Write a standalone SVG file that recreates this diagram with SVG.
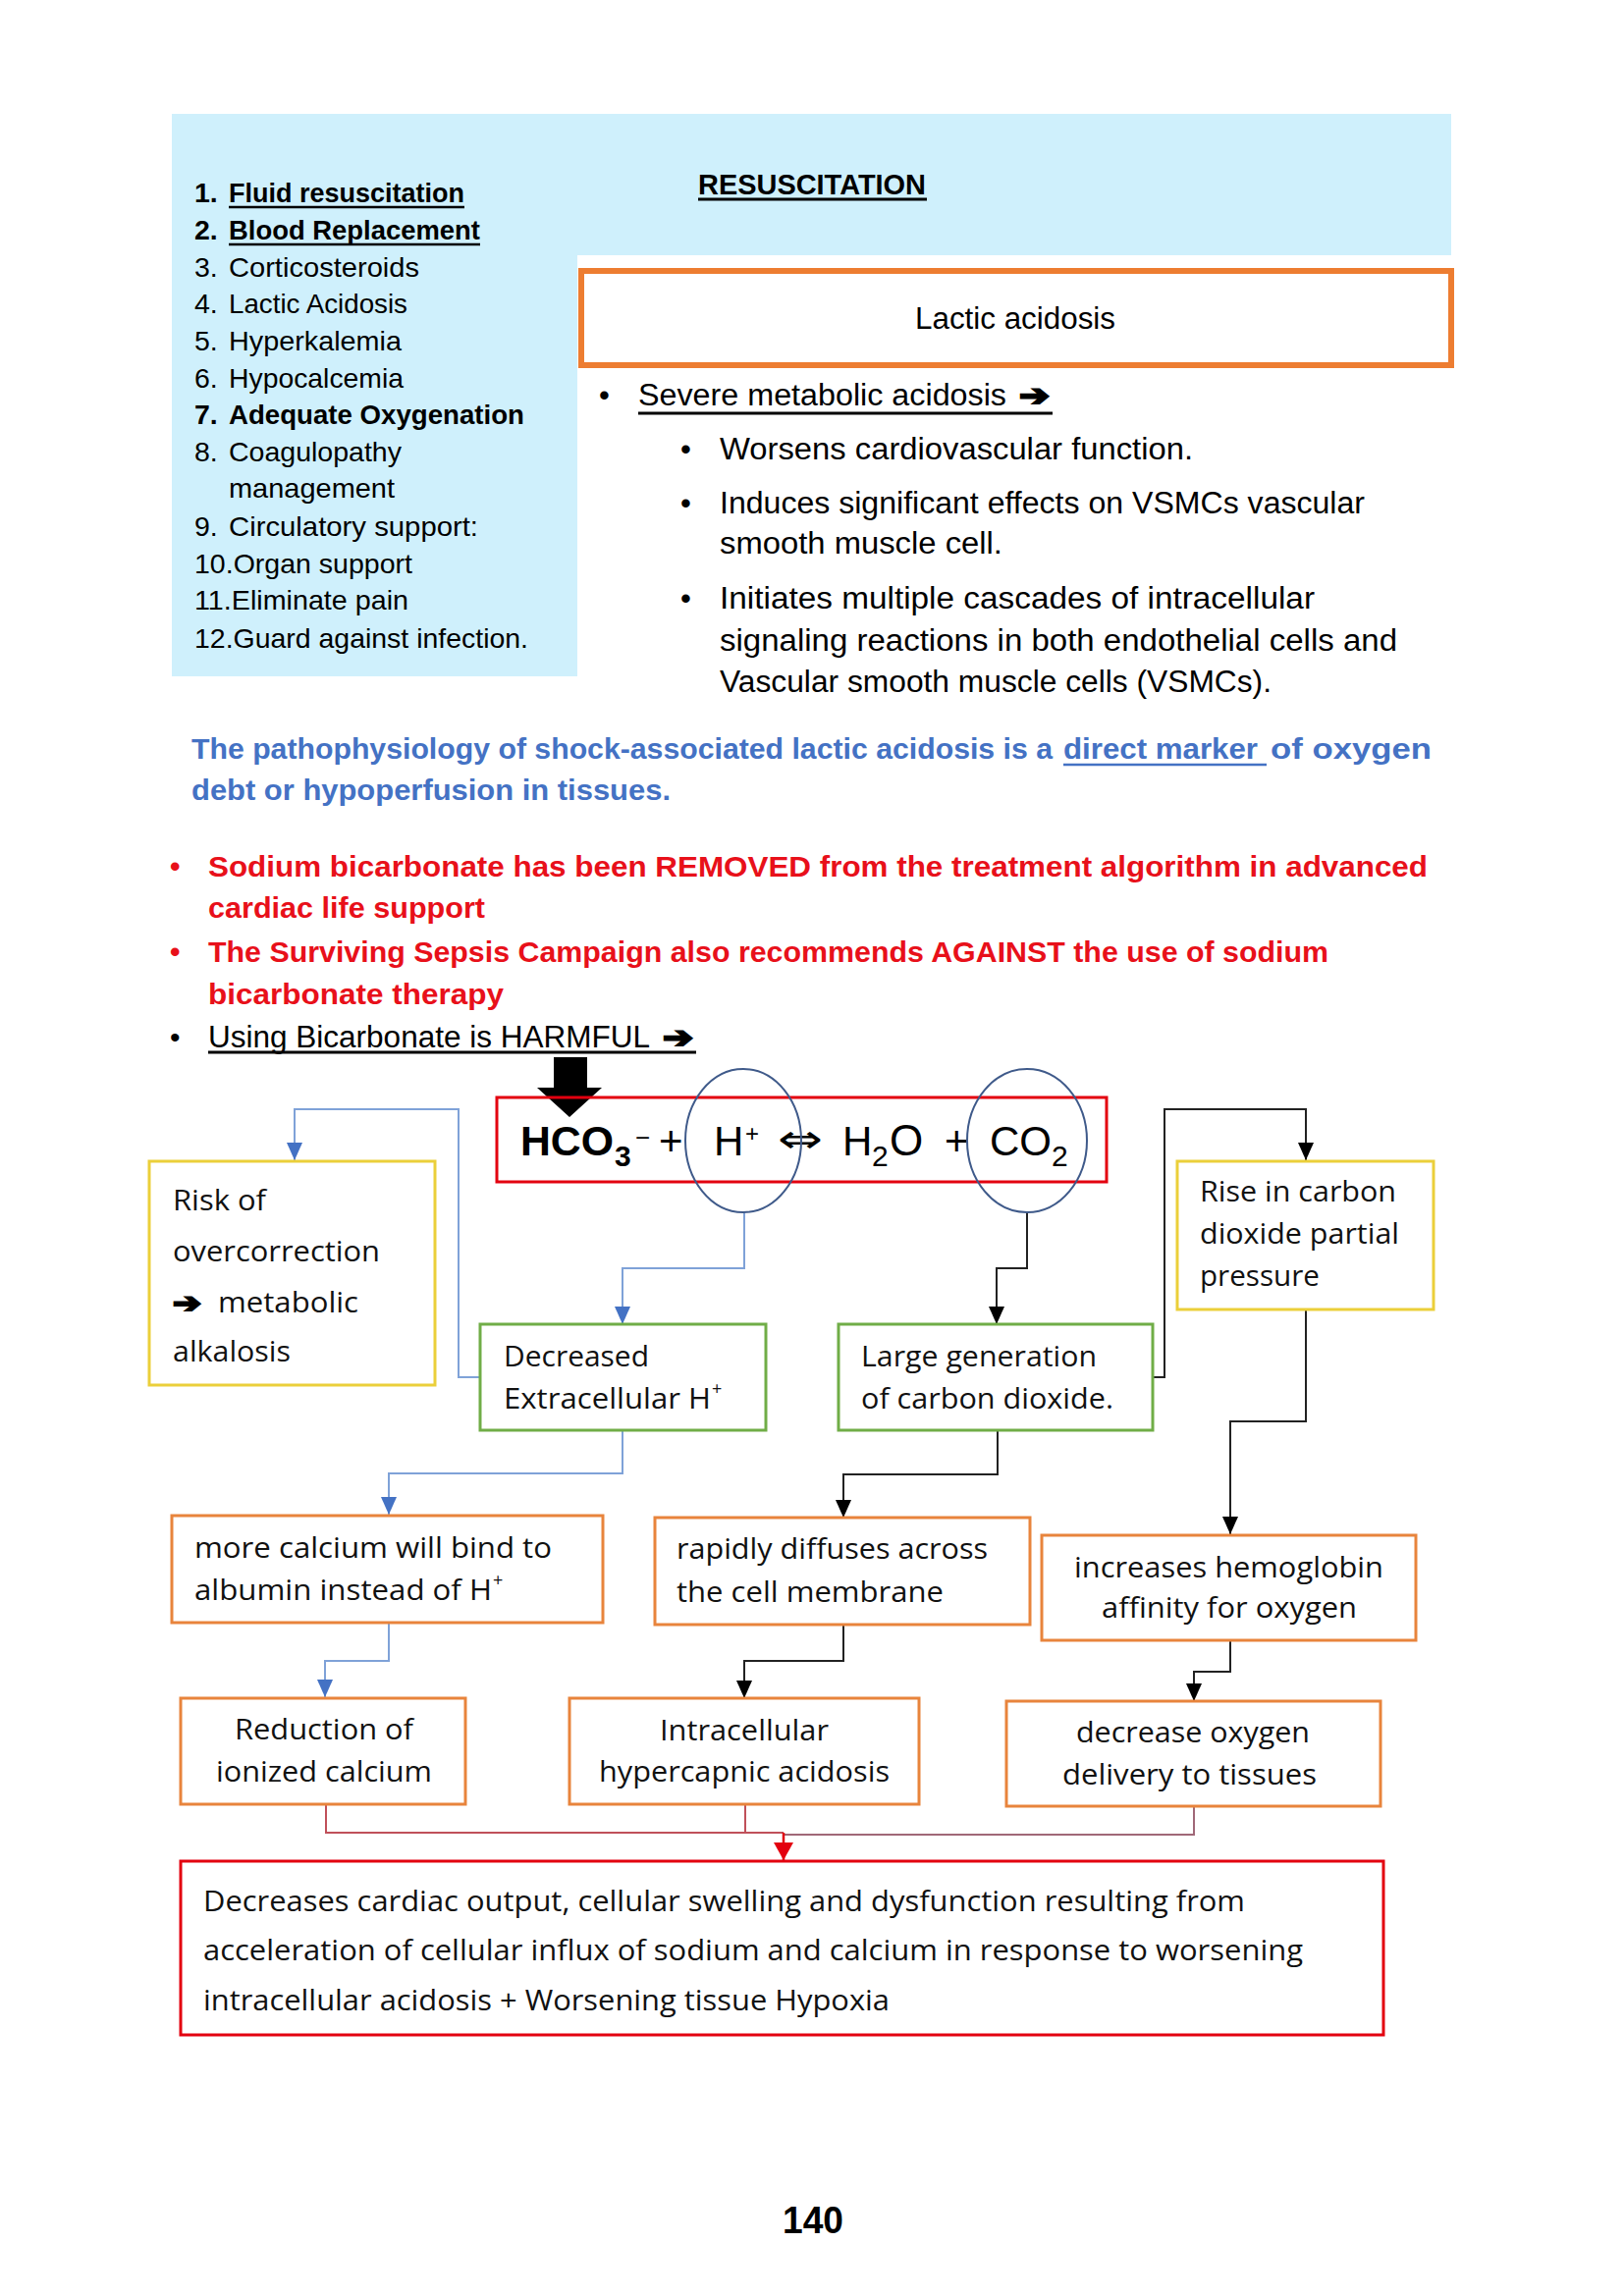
<svg xmlns="http://www.w3.org/2000/svg" width="1654" height="2339" viewBox="0 0 1654 2339">
<defs>
<style>
.t{font-family:"Liberation Sans",Arial,sans-serif;fill:#000}
.b{font-weight:bold}
.d{font-family:"Open Sans","Noto Sans",sans-serif;font-size:29px;fill:#111}
.ar{font-family:"DejaVu Sans",sans-serif;font-weight:bold;stroke:#000;stroke-width:2.2}
.bx{fill:#fff;stroke-width:3}
.yel{stroke:#EBCF3A}
.grn{stroke:#70AD47}
.org{stroke:#E8843C}
.red{stroke:#E3000F}
.cb{fill:none;stroke:#7FA2D8;stroke-width:2}
.ck{fill:none;stroke:#222;stroke-width:2}
.cr{fill:none;stroke:#C0505A;stroke-width:2}
.ul{stroke-width:2.6}
</style>
<marker id="mb" viewBox="0 0 18 16" refX="18" refY="8" markerWidth="18" markerHeight="16" markerUnits="userSpaceOnUse" orient="auto"><path d="M0,0 L18,8 L0,16 z" fill="#4472C4"/></marker>
<marker id="mk" viewBox="0 0 18 16" refX="18" refY="8" markerWidth="18" markerHeight="16" markerUnits="userSpaceOnUse" orient="auto"><path d="M0,0 L18,8 L0,16 z" fill="#000"/></marker>
<marker id="mr" viewBox="0 0 18 20" refX="18" refY="10" markerWidth="18" markerHeight="20" markerUnits="userSpaceOnUse" orient="auto"><path d="M0,0 L18,10 L0,20 z" fill="#E3000F"/></marker>
</defs>
<rect x="0" y="0" width="1654" height="2339" fill="#fff"/>

<g id="background">
<path d="M175,116 H1478 V260 H588 V689 H175 Z" fill="#CFF0FC"/>
</g>

<g id="resuscitation-list" class="t" font-size="28.5">
<text x="198" y="206" class="b">1.</text><text x="233" y="206" class="b" textLength="240" lengthAdjust="spacingAndGlyphs">Fluid resuscitation</text>
<line x1="233" y1="211" x2="473" y2="211" stroke="#000" class="ul"/>
<text x="198" y="244" class="b">2.</text><text x="233" y="244" class="b" textLength="256" lengthAdjust="spacingAndGlyphs">Blood Replacement</text>
<line x1="233" y1="249" x2="489" y2="249" stroke="#000" class="ul"/>
<text x="198" y="282">3.</text><text x="233" y="282" textLength="194" lengthAdjust="spacingAndGlyphs">Corticosteroids</text>
<text x="198" y="319">4.</text><text x="233" y="319" textLength="182" lengthAdjust="spacingAndGlyphs">Lactic Acidosis</text>
<text x="198" y="357">5.</text><text x="233" y="357" textLength="176" lengthAdjust="spacingAndGlyphs">Hyperkalemia</text>
<text x="198" y="395">6.</text><text x="233" y="395" textLength="178" lengthAdjust="spacingAndGlyphs">Hypocalcemia</text>
<text x="198" y="432" class="b">7.</text><text x="233" y="432" class="b" textLength="301" lengthAdjust="spacingAndGlyphs">Adequate Oxygenation</text>
<text x="198" y="470">8.</text><text x="233" y="470" textLength="176" lengthAdjust="spacingAndGlyphs">Coagulopathy</text>
<text x="233" y="507" textLength="169" lengthAdjust="spacingAndGlyphs">management</text>
<text x="198" y="546">9.</text><text x="233" y="546" textLength="254" lengthAdjust="spacingAndGlyphs">Circulatory support:</text>
<text x="198" y="584" textLength="222" lengthAdjust="spacingAndGlyphs">10.Organ support</text>
<text x="198" y="621" textLength="218" lengthAdjust="spacingAndGlyphs">11.Eliminate pain</text>
<text x="198" y="660" textLength="340" lengthAdjust="spacingAndGlyphs">12.Guard against infection.</text>
</g>

<g id="title" class="t b" font-size="29">
<text x="711" y="198" textLength="232" lengthAdjust="spacingAndGlyphs">RESUSCITATION</text>
<line x1="711" y1="203" x2="944" y2="203" stroke="#000" stroke-width="3"/>
</g>

<g id="lactic-acidosis">
<rect x="592" y="276" width="886" height="96" fill="#fff" stroke="#ED7D31" stroke-width="6"/>
<text class="t" x="932" y="335" font-size="31" textLength="204" lengthAdjust="spacingAndGlyphs">Lactic acidosis</text>
</g>

<g id="lactic-bullets" class="t" font-size="31">
<text x="610" y="413">•</text>
<text x="650" y="413" textLength="375" lengthAdjust="spacingAndGlyphs">Severe metabolic acidosis</text>
<text x="1038" y="413" class="ar" font-size="30" textLength="31" lengthAdjust="spacingAndGlyphs">➔</text>
<line x1="650" y1="421" x2="1072" y2="421" stroke="#000" stroke-width="3"/>
<text x="693" y="468">•</text>
<text x="733" y="468" textLength="482" lengthAdjust="spacingAndGlyphs">Worsens cardiovascular function.</text>
<text x="693" y="523">•</text>
<text x="733" y="523" textLength="657" lengthAdjust="spacingAndGlyphs">Induces significant effects on VSMCs vascular</text>
<text x="733" y="564" textLength="288" lengthAdjust="spacingAndGlyphs">smooth muscle cell.</text>
<text x="693" y="620">•</text>
<text x="733" y="620" textLength="606" lengthAdjust="spacingAndGlyphs">Initiates multiple cascades of intracellular</text>
<text x="733" y="663" textLength="690" lengthAdjust="spacingAndGlyphs">signaling reactions in both endothelial cells and</text>
<text x="733" y="705" textLength="562" lengthAdjust="spacingAndGlyphs">Vascular smooth muscle cells (VSMCs).</text>
</g>

<g id="pathophysiology" class="t b" font-size="30" style="fill:#4472C4">
<text x="195" y="773" fill="#4472C4" textLength="877" lengthAdjust="spacingAndGlyphs">The pathophysiology of shock-associated lactic acidosis is a</text>
<text x="1083" y="773" fill="#4472C4" textLength="198" lengthAdjust="spacingAndGlyphs">direct marker</text>
<text x="1294" y="773" fill="#4472C4" textLength="164" lengthAdjust="spacingAndGlyphs">of oxygen</text>
<line x1="1083" y1="779" x2="1290" y2="779" stroke="#4472C4" stroke-width="2.6"/>
<text x="195" y="815" fill="#4472C4" textLength="488" lengthAdjust="spacingAndGlyphs">debt or hypoperfusion in tissues.</text>
</g>

<g id="bicarbonate-notes" class="t" font-size="30">
<text x="173" y="893" class="b" fill="#E8101A">•</text>
<text x="212" y="893" class="b" fill="#E8101A" textLength="1242" lengthAdjust="spacingAndGlyphs">Sodium bicarbonate has been REMOVED from the treatment algorithm in advanced</text>
<text x="212" y="935" class="b" fill="#E8101A" textLength="282" lengthAdjust="spacingAndGlyphs">cardiac life support</text>
<text x="173" y="980" class="b" fill="#E8101A">•</text>
<text x="212" y="980" class="b" fill="#E8101A" textLength="1141" lengthAdjust="spacingAndGlyphs">The Surviving Sepsis Campaign also recommends AGAINST the use of sodium</text>
<text x="212" y="1023" class="b" fill="#E8101A" textLength="301" lengthAdjust="spacingAndGlyphs">bicarbonate therapy</text>
<text x="173" y="1067">•</text>
<text x="212" y="1067" font-size="31" textLength="450" lengthAdjust="spacingAndGlyphs">Using Bicarbonate is HARMFUL</text>
<text x="675" y="1067" class="ar" font-size="30" textLength="31" lengthAdjust="spacingAndGlyphs">➔</text>
<line x1="212" y1="1072" x2="709" y2="1072" stroke="#000" stroke-width="3"/>
</g>

<g id="connectors">
<path class="cb" d="M489,1403 H467 V1130 H300 V1182" marker-end="url(#mb)"/>
<path class="cb" d="M758,1235 V1292 H634 V1349" marker-end="url(#mb)"/>
<path class="cb" d="M634,1457 V1501 H396 V1543" marker-end="url(#mb)"/>
<path class="cb" d="M396,1653 V1692 H331 V1729" marker-end="url(#mb)"/>
<path class="ck" d="M1046,1235 V1292 H1015 V1349" marker-end="url(#mk)"/>
<path class="ck" d="M1174,1403 H1186 V1130 H1330 V1182" marker-end="url(#mk)"/>
<path class="ck" d="M1016,1457 V1502 H859 V1546" marker-end="url(#mk)"/>
<path class="ck" d="M859,1655 V1692 H758 V1730" marker-end="url(#mk)"/>
<path class="ck" d="M1330,1334 V1448 H1253 V1563" marker-end="url(#mk)"/>
<path class="ck" d="M1253,1671 V1703 H1216 V1733" marker-end="url(#mk)"/>
<path class="cr" d="M332,1838 V1867 H798"/>
<path class="cr" d="M759,1838 V1867"/>
<path fill="none" stroke="#A06878" stroke-width="2" d="M1216,1840 V1869 H798"/>
<path fill="none" stroke="#E3000F" stroke-width="2.5" d="M798,1867 V1895" marker-end="url(#mr)"/>
</g>

<g id="equation">
<polygon points="564,1077 598,1077 598,1108 613,1108 580,1138 547,1108 564,1108" fill="#000"/>
<rect x="506" y="1118" width="621" height="86" fill="none" stroke="#E3000F" stroke-width="3"/>
<g class="t" fill="#000">
<text x="530" y="1177" class="b" font-size="43"><tspan textLength="95" lengthAdjust="spacingAndGlyphs">HCO</tspan><tspan x="626" y="1188" font-size="30">3</tspan><tspan x="647" y="1168" font-size="26" font-weight="normal">−</tspan></text>
<text x="671" y="1177" font-size="42">+</text>
<text x="727" y="1177" font-size="42">H<tspan x="759" y="1163" font-size="24">+</tspan></text>
<text x="792" y="1174" font-family="DejaVu Sans" font-size="40" textLength="46" lengthAdjust="spacingAndGlyphs">⇔</text>
<text x="858" y="1177" font-size="42">H<tspan x="888" y="1188" font-size="30">2</tspan><tspan x="906" y="1177" font-size="44">O</tspan></text>
<text x="962" y="1177" font-size="42">+</text>
<text x="1008" y="1177" font-size="42"><tspan textLength="63" lengthAdjust="spacingAndGlyphs">CO</tspan><tspan x="1071" y="1188" font-size="30">2</tspan></text>
</g>
<ellipse cx="757" cy="1162" rx="59" ry="73" fill="none" stroke="#3F5A8A" stroke-width="2"/>
<ellipse cx="1046" cy="1162" rx="61" ry="73" fill="none" stroke="#3F5A8A" stroke-width="2"/>
</g>

<g id="risk-overcorrection">
<rect class="bx yel" x="152" y="1183" width="291" height="228"/>
<text class="d" x="176" y="1233" textLength="95" lengthAdjust="spacingAndGlyphs">Risk of</text>
<text class="d" x="176" y="1285" textLength="211" lengthAdjust="spacingAndGlyphs">overcorrection</text>
<text class="ar" x="176" y="1337" font-size="28" textLength="29" lengthAdjust="spacingAndGlyphs">➔</text>
<text class="d" x="222" y="1337" textLength="143" lengthAdjust="spacingAndGlyphs">metabolic</text>
<text class="d" x="176" y="1387" textLength="120" lengthAdjust="spacingAndGlyphs">alkalosis</text>
</g>

<g id="decreased-h">
<rect class="bx grn" x="489" y="1349" width="291" height="108"/>
<text class="d" x="513" y="1392" textLength="148" lengthAdjust="spacingAndGlyphs">Decreased</text>
<text class="d" x="513" y="1435"><tspan textLength="211" lengthAdjust="spacingAndGlyphs">Extracellular H</tspan><tspan x="725" y="1421" font-size="18">+</tspan></text>
</g>

<g id="large-co2">
<rect class="bx grn" x="854" y="1349" width="320" height="108"/>
<text class="d" x="877" y="1392" textLength="240" lengthAdjust="spacingAndGlyphs">Large generation</text>
<text class="d" x="877" y="1435" textLength="257" lengthAdjust="spacingAndGlyphs">of carbon dioxide.</text>
</g>

<g id="rise-co2">
<rect class="bx yel" x="1199" y="1183" width="261" height="151"/>
<text class="d" x="1222" y="1224" textLength="200" lengthAdjust="spacingAndGlyphs">Rise in carbon</text>
<text class="d" x="1222" y="1267" textLength="203" lengthAdjust="spacingAndGlyphs">dioxide partial</text>
<text class="d" x="1222" y="1310" textLength="122" lengthAdjust="spacingAndGlyphs">pressure</text>
</g>

<g id="more-calcium">
<rect class="bx org" x="175" y="1544" width="439" height="109"/>
<text class="d" x="198" y="1587" textLength="364" lengthAdjust="spacingAndGlyphs">more calcium will bind to</text>
<text class="d" x="198" y="1630"><tspan textLength="303" lengthAdjust="spacingAndGlyphs">albumin instead of H</tspan><tspan x="502" y="1616" font-size="18">+</tspan></text>
</g>

<g id="rapid-diffusion">
<rect class="bx org" x="667" y="1546" width="382" height="109"/>
<text class="d" x="689" y="1588" textLength="317" lengthAdjust="spacingAndGlyphs">rapidly diffuses across</text>
<text class="d" x="689" y="1632" textLength="272" lengthAdjust="spacingAndGlyphs">the cell membrane</text>
</g>

<g id="hemoglobin-affinity">
<rect class="bx org" x="1061" y="1564" width="381" height="107"/>
<text class="d" x="1094" y="1607" textLength="315" lengthAdjust="spacingAndGlyphs">increases hemoglobin</text>
<text class="d" x="1122" y="1648" textLength="260" lengthAdjust="spacingAndGlyphs">affinity for oxygen</text>
</g>

<g id="reduction-calcium">
<rect class="bx org" x="184" y="1730" width="290" height="108"/>
<text class="d" x="239" y="1772" textLength="182" lengthAdjust="spacingAndGlyphs">Reduction of</text>
<text class="d" x="220" y="1815" textLength="220" lengthAdjust="spacingAndGlyphs">ionized calcium</text>
</g>

<g id="intracellular-acidosis">
<rect class="bx org" x="580" y="1730" width="356" height="108"/>
<text class="d" x="672" y="1773" textLength="172" lengthAdjust="spacingAndGlyphs">Intracellular</text>
<text class="d" x="610" y="1815" textLength="296" lengthAdjust="spacingAndGlyphs">hypercapnic acidosis</text>
</g>

<g id="decrease-oxygen">
<rect class="bx org" x="1025" y="1733" width="381" height="107"/>
<text class="d" x="1096" y="1775" textLength="238" lengthAdjust="spacingAndGlyphs">decrease oxygen</text>
<text class="d" x="1082" y="1818" textLength="259" lengthAdjust="spacingAndGlyphs">delivery to tissues</text>
</g>

<g id="outcome">
<rect class="bx red" x="184" y="1896" width="1225" height="177"/>
<text class="d" x="207" y="1947" textLength="1061" lengthAdjust="spacingAndGlyphs">Decreases cardiac output, cellular swelling and dysfunction resulting from</text>
<text class="d" x="207" y="1997" textLength="1120" lengthAdjust="spacingAndGlyphs">acceleration of cellular influx of sodium and calcium in response to worsening</text>
<text class="d" x="207" y="2048" textLength="699" lengthAdjust="spacingAndGlyphs">intracellular acidosis + Worsening tissue Hypoxia</text>
</g>

<g id="page-number">
<text class="t b" x="797" y="2275" font-size="38" textLength="62" lengthAdjust="spacingAndGlyphs">140</text>
</g>
</svg>
